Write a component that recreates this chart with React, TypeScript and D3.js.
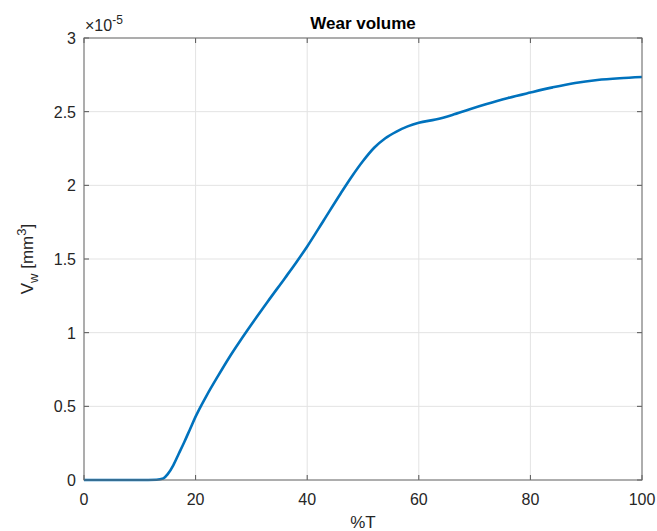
import React from "react";
import * as d3 from "d3";

// readings of the curve (x in %T, y in 1e-5 mm^3)
const pctT = [0, 5, 10, 13, 14.2, 15, 16, 17, 18, 19, 20, 21, 22, 24, 26, 28, 30, 33, 36, 38, 40, 43, 46, 48, 50, 52, 54, 56, 58, 60, 63, 66, 69, 72, 76, 80, 84, 88, 92, 96, 100];
const wearVol = [0, 0, 0, 0.002, 0.01, 0.04, 0.1, 0.18, 0.26, 0.345, 0.43, 0.505, 0.575, 0.705, 0.83, 0.945, 1.055, 1.215, 1.37, 1.475, 1.585, 1.765, 1.945, 2.06, 2.165, 2.255, 2.32, 2.365, 2.4, 2.425, 2.447, 2.478, 2.515, 2.55, 2.593, 2.63, 2.665, 2.695, 2.715, 2.727, 2.735];
const xTicks = [0, 20, 40, 60, 80, 100];
const yTicks = [0, 0.5, 1, 1.5, 2, 2.5, 3];

const W = 657;
const H = 531;
const left = 84;
const right = 642;
const top = 38;
const bottom = 480;
const font = "'Liberation Sans', Arial, Helvetica, sans-serif";
const ink = "#262626";

export default function App() {
  const x = d3.scaleLinear().domain([0, 100]).range([left, right]);
  const y = d3.scaleLinear().domain([0, 3]).range([bottom, top]);
  const line = d3
    .line<number>()
    .x((d, i) => x(pctT[i]))
    .y((d) => y(d))
    .curve(d3.curveMonotoneX);

  const tickLen = 5;

  return (
    <svg
      width={W}
      height={H}
      style={{ position: "absolute", left: 0, top: 0, background: "#fff" }}
      fontFamily={font}
    >
      {/* grid */}
      {xTicks.map((t) => (
        <line key={"gx" + t} x1={x(t)} x2={x(t)} y1={top} y2={bottom} stroke="#e3e3e3" strokeWidth={1} />
      ))}
      {yTicks.map((t) => (
        <line key={"gy" + t} x1={left} x2={right} y1={y(t)} y2={y(t)} stroke="#e3e3e3" strokeWidth={1} />
      ))}

      {/* ticks, inward on every side */}
      {xTicks.map((t) => (
        <g key={"tx" + t} stroke="#555" strokeWidth={1}>
          <line x1={x(t)} x2={x(t)} y1={bottom} y2={bottom - tickLen} />
          <line x1={x(t)} x2={x(t)} y1={top} y2={top + tickLen} />
        </g>
      ))}
      {yTicks.map((t) => (
        <g key={"ty" + t} stroke="#555" strokeWidth={1}>
          <line x1={left} x2={left + tickLen} y1={y(t)} y2={y(t)} />
          <line x1={right} x2={right - tickLen} y1={y(t)} y2={y(t)} />
        </g>
      ))}

      {/* data */}
      <path d={line(wearVol) || ""} fill="none" stroke="#0072BD" strokeWidth={2.6} strokeLinejoin="round" />

      {/* box */}
      <rect x={left} y={top} width={right - left} height={bottom - top} fill="none" stroke="#6b6b6b" strokeWidth={1} />

      {/* tick labels */}
      {xTicks.map((t) => (
        <text key={"lx" + t} x={x(t)} y={505} textAnchor="middle" fontSize={16} fill={ink}>
          {t}
        </text>
      ))}
      {yTicks.map((t) => (
        <text key={"ly" + t} x={76} y={y(t) + 6} textAnchor="end" fontSize={16} fill={ink}>
          {t}
        </text>
      ))}

      {/* exponent */}
      <text x={85} y={31} fontSize={16} fill={ink}>
        <tspan>×10</tspan>
        <tspan dy={-7} fontSize={12}>-5</tspan>
      </text>

      {/* title and labels */}
      <text x={(left + right) / 2} y={29} textAnchor="middle" fontSize={17} fontWeight="bold" fill="#000">
        Wear volume
      </text>
      <text x={(left + right) / 2} y={528} textAnchor="middle" fontSize={17} fill={ink}>
        %T
      </text>
      <text transform={`translate(33, ${(top + bottom) / 2}) rotate(-90)`} textAnchor="middle" fontSize={17} fill={ink}>
        <tspan>V</tspan>
        <tspan dy={5} fontSize={13}>w</tspan>
        <tspan dy={-5}> [mm</tspan>
        <tspan dy={-7} fontSize={13}>3</tspan>
        <tspan dy={7}>]</tspan>
      </text>
    </svg>
  );
}
